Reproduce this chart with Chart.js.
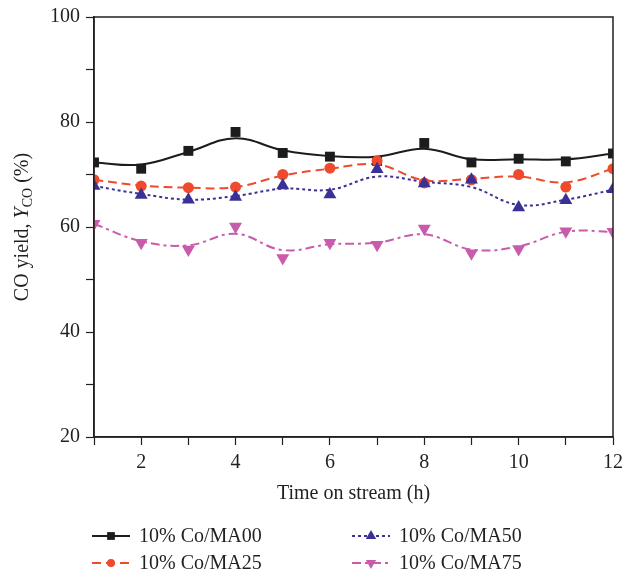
<!DOCTYPE html>
<html lang="en">
<head>
<meta charset="UTF-8">
<title>CO yield</title>
<style>
  html, body { margin: 0; padding: 0; background: #fff; }
  #wrap { width: 622px; height: 571px; }
</style>
</head>
<body>
<div id="wrap"><canvas id="chart" width="622" height="571"></canvas></div>
<script src="https://cdnjs.cloudflare.com/ajax/libs/Chart.js/4.4.0/chart.umd.js"></script>
<script>
// time on stream (h)
const hours = [1, 2, 3, 4, 5, 6, 7, 8, 9, 10, 11, 12];

// measured points
const ma00 = [72.3, 71.1, 74.5, 78.1, 74.1, 73.4, 72.6, 76.0, 72.3, 73.0, 72.5, 74.0];
const ma25 = [69.0, 67.8, 67.5, 67.6, 70.0, 71.2, 72.6, 68.4, 69.0, 70.0, 67.6, 71.1];
const ma50 = [67.8, 66.1, 65.2, 65.7, 67.9, 66.2, 71.0, 68.3, 69.0, 63.7, 65.1, 67.2];
const ma75 = [60.6, 57.0, 55.7, 60.1, 54.1, 57.0, 56.6, 59.7, 55.0, 55.8, 59.2, 59.1];

// fitted curves at each hour
const ma00Fit = [72.3, 71.9, 74.3, 76.9, 74.6, 73.5, 73.4, 74.9, 72.9, 72.9, 72.9, 74.0];
const ma25Fit = [69.0, 67.9, 67.5, 67.6, 69.8, 71.1, 71.9, 68.9, 69.2, 69.6, 68.5, 71.1];
const ma50Fit = [67.8, 66.3, 65.2, 65.9, 67.3, 67.1, 69.6, 68.6, 67.6, 64.2, 65.2, 67.1];
const ma75Fit = [60.6, 57.3, 56.5, 58.7, 55.6, 56.7, 57.0, 58.6, 55.7, 56.3, 59.1, 59.1];

const xTicks = [2, 4, 6, 8, 10, 12];
const yTicks = [20, 40, 60, 80, 100];

const FONT = '"Liberation Serif", "DejaVu Serif", serif';
const TXT = '#231f20';

const series = [
  { label: '10% Co/MA00', pts: ma00, fit: ma00Fit, color: '#1c1c1c', dash: [], style: 'rect', r: 7, rot: 0 },
  { label: '10% Co/MA25', pts: ma25, fit: ma25Fit, color: '#ef4a2b', dash: [9, 5], style: 'circle', r: 5.5, rot: 0 },
  { label: '10% Co/MA50', pts: ma50, fit: ma50Fit, color: '#3a3095', dash: [3, 3], style: 'triangle', r: 7.5, rot: 0 },
  { label: '10% Co/MA75', pts: ma75, fit: ma75Fit, color: '#c85bab', dash: [9, 4, 3, 4], style: 'triangle', r: 7.5, rot: 180 }
];

const xy = arr => arr.map((v, i) => ({ x: hours[i], y: v }));

const datasets = [];
series.forEach((s, i) => {
  datasets.push({
    label: s.label + ' fit',
    data: xy(s.fit),
    borderColor: s.color,
    borderWidth: 2,
    borderDash: s.dash,
    pointRadius: 0,
    tension: 0.4,
    order: 10 - i
  });
  datasets.push({
    label: s.label,
    data: xy(s.pts),
    showLine: false,
    pointStyle: s.style,
    pointRadius: s.r,
    pointRotation: s.rot,
    pointBackgroundColor: s.color,
    pointBorderColor: s.color,
    pointBorderWidth: 0,
    order: 4 - i
  });
});

const extras = {
  id: 'extras',
  afterDraw(chart) {
    const { ctx, chartArea: a } = chart;
    ctx.save();
    // frame
    ctx.strokeStyle = '#231f20';
    ctx.lineWidth = 1.5;
    ctx.strokeRect(a.left, a.top, a.right - a.left, a.bottom - a.top);

    ctx.fillStyle = TXT;
    ctx.textBaseline = 'middle';

    // x title
    ctx.font = '20px ' + FONT;
    ctx.textAlign = 'center';
    ctx.fillText('Time on stream (h)', (a.left + a.right) / 2, 494);

    // y title with italic Y and subscript CO
    ctx.save();
    ctx.translate(23, (a.top + a.bottom) / 2);
    ctx.rotate(-Math.PI / 2);
    ctx.textAlign = 'left';
    const parts = [
      { t: 'CO yield, ', f: '20px ' + FONT, dy: 0 },
      { t: 'Y', f: 'italic 20px ' + FONT, dy: 0 },
      { t: 'CO', f: '14px ' + FONT, dy: 5 },
      { t: ' (%)', f: '20px ' + FONT, dy: 0 }
    ];
    let w = 0;
    parts.forEach(p => { ctx.font = p.f; p.w = ctx.measureText(p.t).width; w += p.w; });
    let x = -w / 2;
    parts.forEach(p => { ctx.font = p.f; ctx.fillText(p.t, x, p.dy); x += p.w; });
    ctx.restore();

    // legend, two columns
    const cells = [[92, 536], [92, 563], [352, 536], [352, 563]];
    series.forEach((s, i) => {
      const [lx, ly] = cells[i];
      ctx.strokeStyle = s.color;
      ctx.lineWidth = 2;
      ctx.setLineDash(s.dash);
      ctx.beginPath();
      ctx.moveTo(lx, ly);
      ctx.lineTo(lx + 38, ly);
      ctx.stroke();
      ctx.setLineDash([]);
      ctx.fillStyle = s.color;
      Chart.helpers.drawPoint(ctx, { pointStyle: s.style, radius: s.r - 1.5, rotation: s.rot, borderWidth: 0 }, lx + 19, ly);
      ctx.fillStyle = TXT;
      ctx.font = '20px ' + FONT;
      ctx.textAlign = 'left';
      ctx.fillText(s.label, lx + 47, ly + 1);
    });
    ctx.restore();
  }
};

new Chart(document.getElementById('chart'), {
  type: 'line',
  data: { datasets },
  options: {
    responsive: false,
    animation: false,
    layout: { padding: { top: 17, right: 9, left: 0, bottom: 0 } },
    plugins: { legend: { display: false }, tooltip: { enabled: false } },
    scales: {
      x: {
        type: 'linear',
        min: 1,
        max: 12,
        afterFit: s => { s.height = 134; s.paddingLeft = 0; s.paddingRight = 0; },
        afterBuildTicks: s => { s.ticks = hours.map(v => ({ value: v })); },
        ticks: {
          autoSkip: false,
          maxRotation: 0,
          padding: 6,
          color: TXT,
          font: { family: FONT, size: 20 },
          callback: v => xTicks.includes(v) ? String(v) : ''
        },
        grid: { drawOnChartArea: false, tickLength: 8, tickColor: '#231f20', tickWidth: 1.2 },
        border: { display: true, color: '#231f20', width: 1.5 }
      },
      y: {
        min: 20,
        max: 100,
        afterFit: s => { s.width = 94; s.paddingTop = 0; s.paddingBottom = 0; },
        afterBuildTicks: s => { s.ticks = [20, 30, 40, 50, 60, 70, 80, 90, 100].map(v => ({ value: v })); },
        ticks: {
          autoSkip: false,
          padding: 6,
          color: TXT,
          font: { family: FONT, size: 20 },
          callback: v => yTicks.includes(v) ? String(v) : ''
        },
        grid: { drawOnChartArea: false, tickLength: 8, tickColor: '#231f20', tickWidth: 1.2 },
        border: { display: true, color: '#231f20', width: 1.5 }
      }
    }
  },
  plugins: [extras]
});
</script>
</body>
</html>
